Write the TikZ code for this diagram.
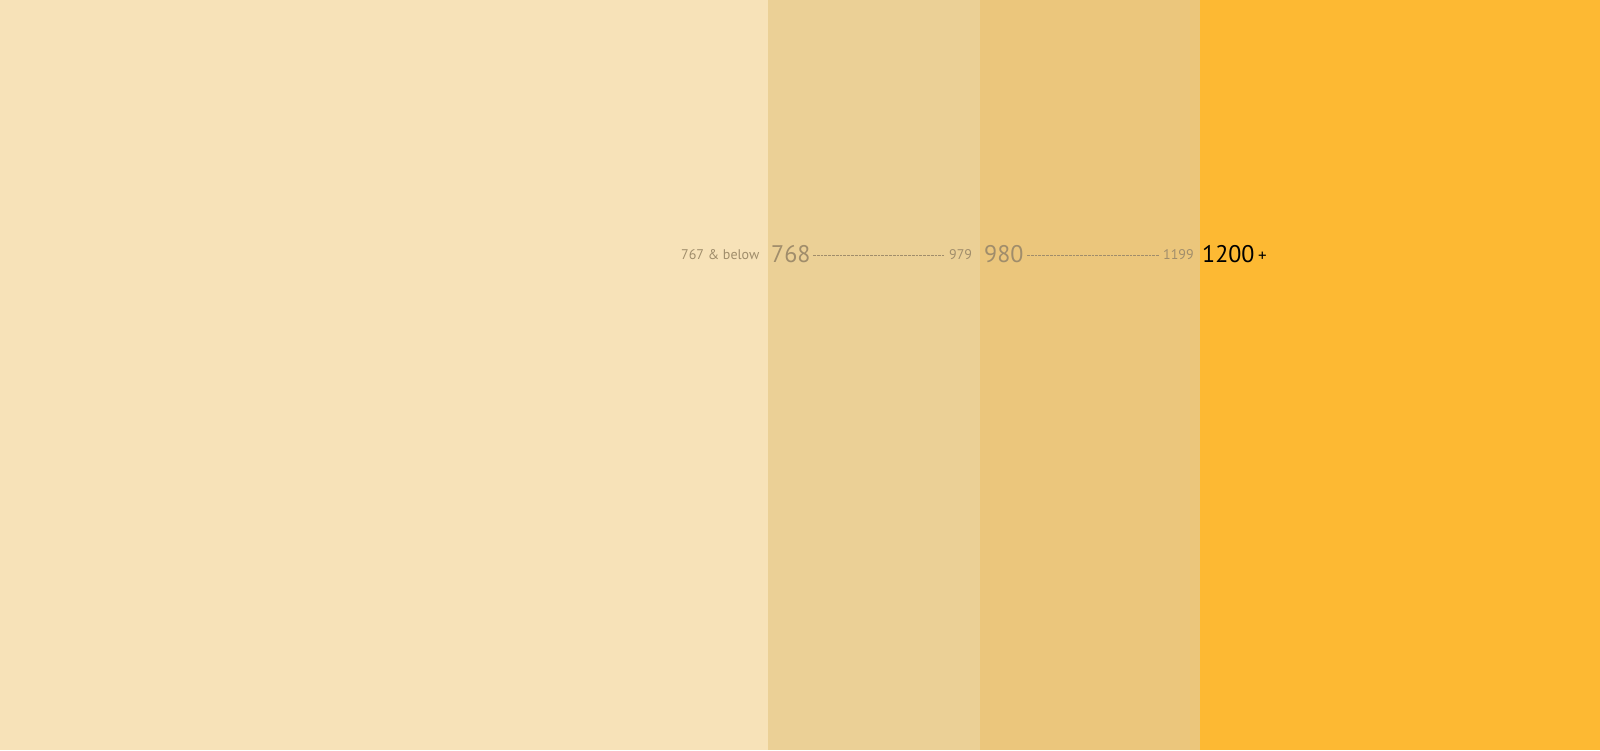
\documentclass[tikz,border=0pt]{standalone}
\usepackage{fontspec}
\setmainfont{PT Sans}
\definecolor{bandA}{HTML}{F7E2B8}
\definecolor{bandB}{HTML}{EBD096}
\definecolor{bandC}{HTML}{EBC67C}
\definecolor{bandD}{HTML}{FDB933}
\definecolor{labgray}{HTML}{A08D6B}
\tikzset{
  lab/.style={anchor=base west, inner sep=0pt, text=labgray},
  big/.style={lab, font=\fontsize{24}{24}\selectfont},
  small/.style={lab, font=\fontsize{14}{14}\selectfont},
  rangeline/.style={draw=labgray, line width=0.9pt, dash pattern=on 2.8pt off 1pt}
}
\begin{document}
\begin{tikzpicture}[x=1pt,y=-1pt]
\useasboundingbox (0,0) rectangle (1600,750);
\fill[bandA] (0,0) rectangle (768,750);
\fill[bandB] (768,0) rectangle (980,750);
\fill[bandC] (980,0) rectangle (1200,750);
\fill[bandD] (1200,0) rectangle (1600,750);
\node[small] (b767) at (681,259) {767 \& below};
\node[big] (b768) at (771,262) {768};
\node[small] (b979) at (949,259) {979};
\node[big] (b980) at (984,262) {980};
\node[small] (b1199) at (1163,259) {1199};
\node[big, text=black] (b1200) at (1202,262) {1200};
\node[lab, text=black, font=\fontsize{17}{17}\selectfont] (plus) at (1258,261) {+};
\coordinate (d1s) at (813,255);
\coordinate (d1e) at (944,255);
\coordinate (d2s) at (1027,255);
\coordinate (d2e) at (1159,255);
\draw[rangeline] (d1s) -- (d1e);
\draw[rangeline] (d2s) -- (d2e);
\end{tikzpicture}
\end{document}
